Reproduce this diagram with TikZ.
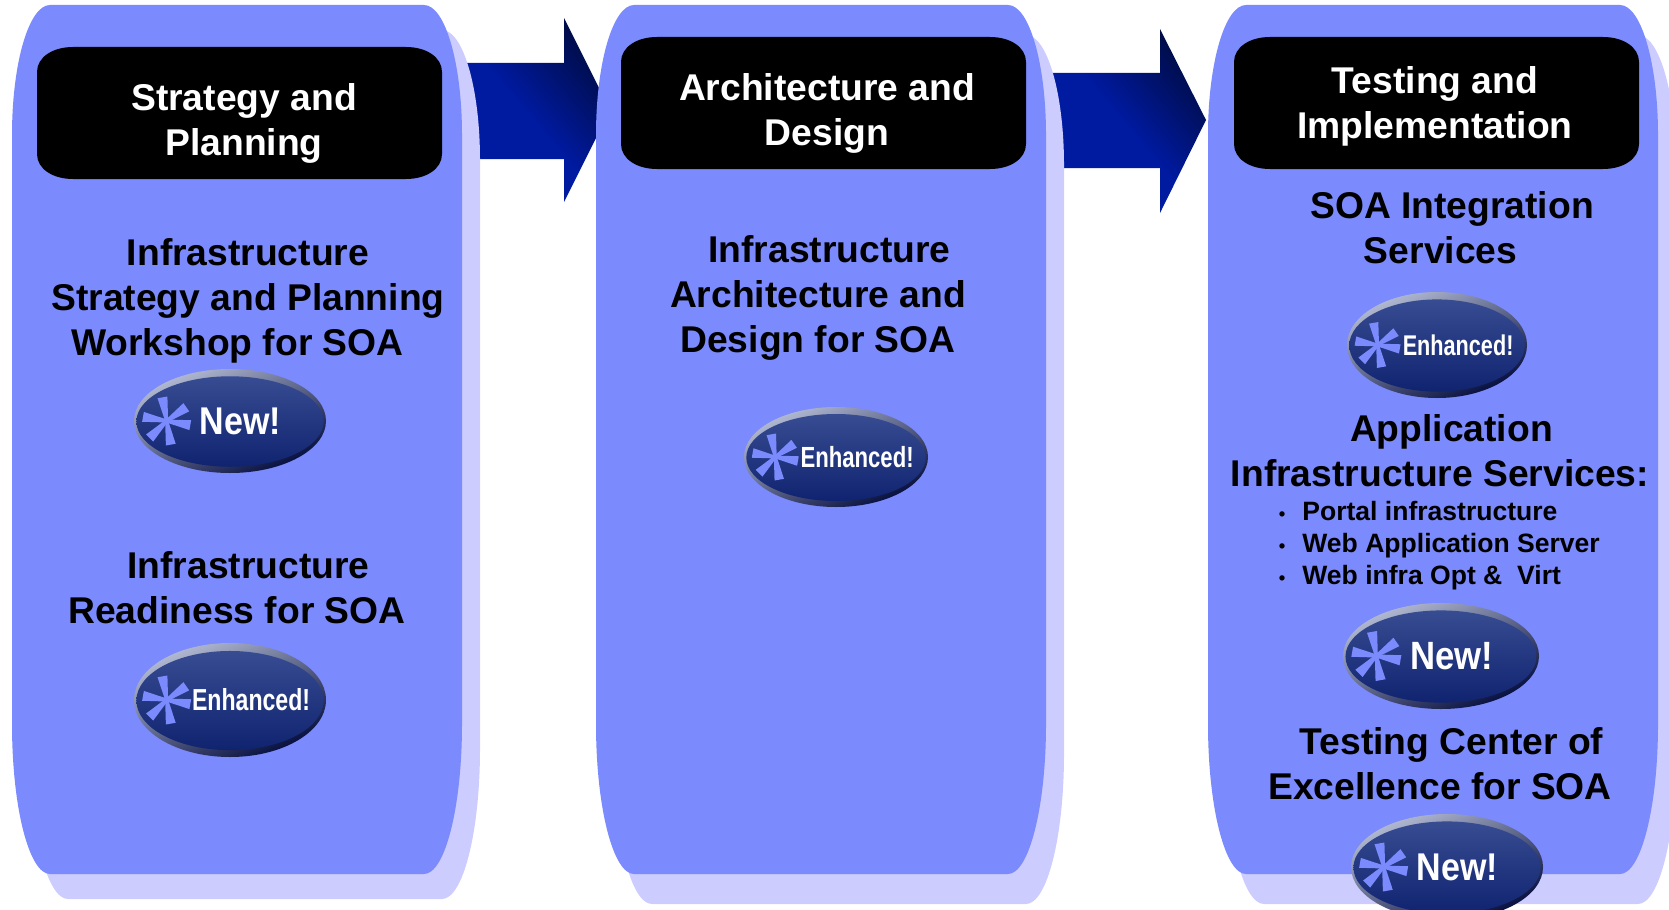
\documentclass[tikz,border=0pt]{standalone}
\usepackage{fontspec}
\setmainfont{Liberation Sans}
\definecolor{panelblue}{HTML}{7B8AFC}
\definecolor{panelshade}{HTML}{CCCCFF}
\definecolor{arrowblue}{HTML}{001AA0}
\definecolor{arrowdark}{HTML}{000C48}
\definecolor{starblue}{HTML}{7B8AFC}
\definecolor{rimlight}{HTML}{B4BCD4}
\definecolor{rimdark}{HTML}{040C3C}
\definecolor{badgetop}{HTML}{384C92}
\definecolor{badgebottom}{HTML}{0F2370}
\tikzset{
	paneltext/.style={font=\fontsize{21.2}{25.6}\selectfont\bfseries,align=center,inner sep=0pt},
	headtext/.style={paneltext,text=white},
	listtext/.style={font=\fontsize{15.1}{18.2}\selectfont\bfseries,align=left,inner sep=0pt,anchor=west},
	blockarrow/.style={bottom color=arrowblue,top color=arrowdark,middle color=arrowblue,shading angle=-50},
	newlabel/.style={font=\fontsize{22}{22}\selectfont\bfseries,text=white,xshift=6pt,xscale=.88,transform shape},
	enhancedlabel/.style={font=\fontsize{17.3}{17.3}\selectfont\bfseries,text=white,xshift=12pt,xscale=.76,transform shape},
	panelbody/.pic={
		\path[pic actions] (0,130) .. controls (0,58) and (17,0) .. (38,0) -- (412,0)
			.. controls (433,0) and (450,58) .. (450,130) -- (450,719)
			.. controls (450,802) and (433,869) .. (412,869) -- (38,869)
			.. controls (17,869) and (0,802) .. (0,719) -- cycle;
	},
	headbox/.pic={
		\path[pic actions] (0,25) .. controls (0,10) and (16,0) .. (36,0) -- (369,0)
			.. controls (389,0) and (405,10) .. (405,25) -- (405,107)
			.. controls (405,122) and (389,132) .. (369,132) -- (36,132)
			.. controls (16,132) and (0,122) .. (0,107) -- cycle;
	},
}
\newcommand{\badge}[7]{
	\begin{scope}[shift={(#2,#3)}]
		\begin{scope}[xscale=#4,yscale=#5]
			\shade[top color=rimlight,bottom color=rimdark,shading angle=25] (0,0) circle (1);
			\shade[top color=badgetop,bottom color=badgebottom] (0,.01) ellipse (.975 and .87);
		\end{scope}
		\begin{scope}[shift={(-.66*#4,0)},scale=#4/96]
			\foreach \ang in {100,35,-10,-80,-135,170} {
				\fill[starblue,rotate=\ang] (0,-1.5) -- (24,-5) -- (24,5) -- (0,1.5) -- cycle;
			}
		\end{scope}
		\node[#6,scale=#4/96] (#1) at (0,0) {#7};
	\end{scope}
}
\begin{document}
\begin{tikzpicture}[x=0.02cm,y=-0.02cm]
	\useasboundingbox (0,0) rectangle (1669,909);
	\clip (0,0) rectangle (1669,909);

	\shade[blockarrow] (440,63) -- (564,63) -- (564,18) -- (610,110) -- (564,202) -- (564,159) -- (440,159) -- cycle;
	\shade[blockarrow] (1040,73) -- (1160,73) -- (1160,29) -- (1206,120) -- (1160,213) -- (1160,168) -- (1040,168) -- cycle;

	\pic[fill=panelshade] at (30,30) {panelbody};
	\pic[fill=panelshade] at (614,35) {panelbody};
	\pic[fill=panelshade] at (1226,35) {panelbody};
	\pic[fill=panelblue] at (12,5) {panelbody};
	\pic[fill=panelblue] at (596,5) {panelbody};
	\pic[fill=panelblue] at (1208,5) {panelbody};

	\pic[fill=black] at (37,47) {headbox};
	\pic[fill=black] at (621,37) {headbox};
	\pic[fill=black] at (1234,37) {headbox};
	\node[headtext] (strategy) at (244,123) {Strategy and\\Planning};
	\node[headtext] (architecture) at (827,113) {Architecture and\\Design};
	\node[headtext] (testing) at (1435,106) {Testing and\\Implementation};

	\node[paneltext] (workshop) at (248,301) {Infrastructure\\Strategy and Planning\\Workshop for SOA\hspace*{12pt}};
	\node[paneltext] (readiness) at (237,588) {\hspace*{13pt}Infrastructure\\Readiness for SOA};
	\node[paneltext] (design) at (818,298) {\hspace*{13pt}Infrastructure\\Architecture and\\Design for SOA};
	\node[paneltext] (integration) at (1452,228) {SOA Integration\\Services\hspace*{13pt}};
	\node[paneltext] (application) at (1440,451) {\hspace*{13pt}Application\\Infrastructure Services:};
	\node[listtext] (services) at (1275,546) {\makebox[15.4pt][l]{\hspace{2pt}\scalebox{.7}{\textbullet}}Portal infrastructure\\\makebox[15.4pt][l]{\hspace{2pt}\scalebox{.7}{\textbullet}}Web Application Server\\\makebox[15.4pt][l]{\hspace{2pt}\scalebox{.7}{\textbullet}}Web infra Opt \&\ \ Virt};
	\node[paneltext] (center) at (1440,764) {\hspace*{13pt}Testing Center of\\Excellence for SOA};

	\badge{newa}{230}{421}{96}{52}{newlabel}{New!}
	\badge{enhanceda}{230}{700}{96}{57}{enhancedlabel}{Enhanced!}
	\badge{enhancedb}{836}{457}{92}{50}{enhancedlabel}{Enhanced!}
	\badge{enhancedc}{1437}{345}{90}{53}{enhancedlabel}{Enhanced!}
	\badge{newb}{1441}{656}{98}{53}{newlabel}{New!}
	\badge{newc}{1447}{867}{96}{53}{newlabel}{New!}
\end{tikzpicture}
\end{document}
